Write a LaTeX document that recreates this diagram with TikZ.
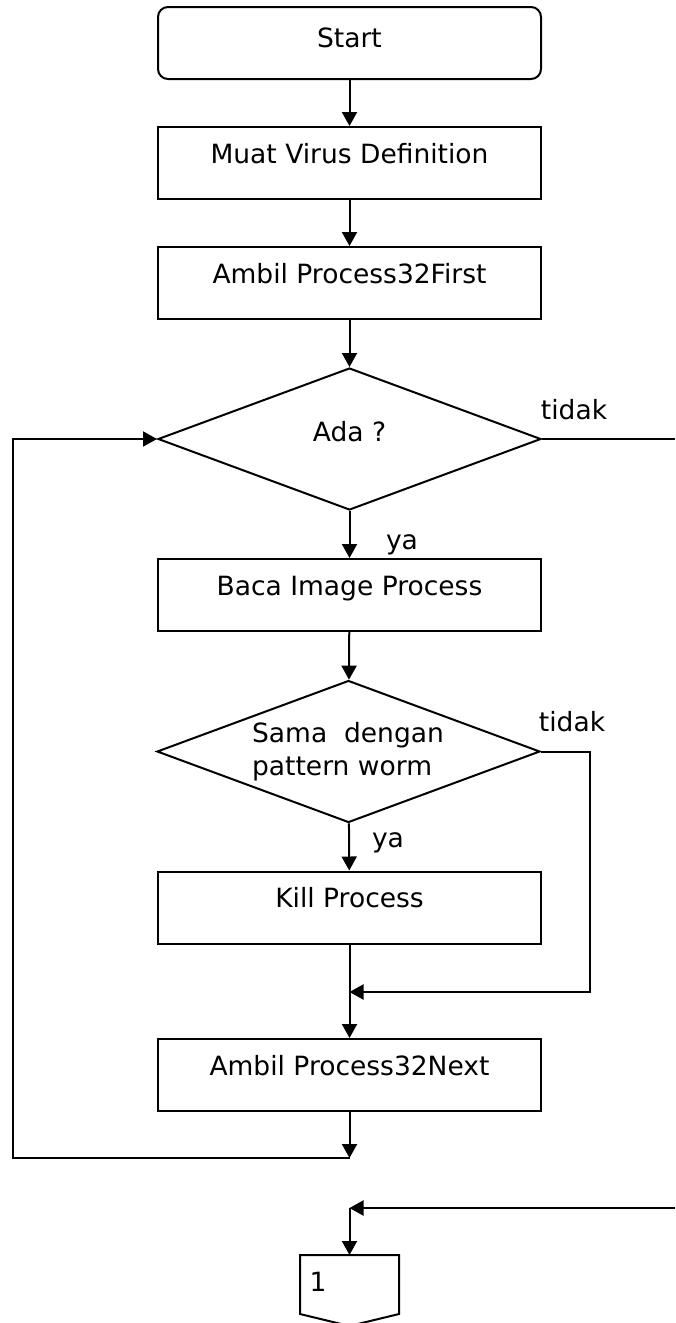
\documentclass[tikz,border=0pt]{standalone}
\usepackage{fontspec}
\setmainfont{DejaVu Sans}
\usetikzlibrary{arrows.meta,shapes.geometric}
\begin{document}
\begin{tikzpicture}[x=1pt,y=-1pt,
  line width=2pt,
  every node/.style={font=\fontsize{26.5}{33}\selectfont},
  procbox/.style={draw, rectangle, minimum width=383pt, minimum height=72pt, text height=19pt, text depth=19pt, inner sep=0pt},
  decbox/.style={draw, diamond, minimum width=383pt, minimum height=142pt, inner sep=0pt},
  lbl/.style={inner sep=0pt},
  arr/.style={-{Triangle[length=14pt,width=15pt]}}
]
\useasboundingbox (0,0) rectangle (675,1323);

\node[procbox, rounded corners=10pt, text height=23pt, text depth=15pt] (start) at (349.5,43) {Start};
\node[procbox] (muat) at (349.5,163) {Muat Virus Definition};
\node[procbox] (first) at (349.5,283) {Ambil Process32First};
\node[decbox, text height=21pt, text depth=17pt] (ada) at (349.5,439) {Ada ?};
\node[procbox] (baca) at (349.5,595) {Baca Image Process};
\node[decbox] (sama) at (348.5,751.5) {};
\node[lbl, align=left] (samatext) at (348,752) {Sama\ \ dengan\\pattern worm};
\node[procbox] (kill) at (349.5,907.5) {Kill Process};
\node[procbox] (next) at (349.5,1075) {Ambil Process32Next};

\node[rectangle, minimum width=97pt, minimum height=57pt, inner sep=0pt] (off) at (349.5,1284.5) {};
\draw (off.north west) -- (off.north east) -- (off.south east) -- ([yshift=-12pt]off.south) -- (off.south west) -- cycle;
\node[lbl] (one) at (318,1282) {1};

\node[lbl] (tidak1) at (574,410) {tidak};
\node[lbl] (tidak2) at (572,722) {tidak};
\node[lbl] (ya1) at (402,545) {ya};
\node[lbl] (ya2) at (388,843) {ya};

\coordinate (j2) at (349.5,992);
\coordinate (j2r) at (590,992);
\coordinate (j2t) at (590,751.5);
\coordinate (j1) at (349.5,1158);
\coordinate (l1) at (13,1158);
\coordinate (l2) at (13,439);
\coordinate (r1) at (675,439);
\coordinate (r2) at (675,1208);
\coordinate (j3) at (349.5,1208);

\draw[arr] (start) -- (muat);
\draw[arr] (muat) -- (first);
\draw[arr] (first) -- (ada);
\draw[arr] (ada) -- (baca);
\draw[arr] (baca) -- (sama);
\draw[arr] (sama) -- (kill);
\draw[arr] (kill) -- (next);
\draw[arr] (sama.east) -- (j2t) -- (j2r) -- (j2);
\draw[arr] (next) -- (j1);
\draw[arr] (j1) -- (l1) -- (l2) -- (ada.west);
\draw (ada.east) -- (r1);
\draw[arr] (r2) -- (j3);
\draw[arr] (j3) -- (off.north);
\end{tikzpicture}
\end{document}
